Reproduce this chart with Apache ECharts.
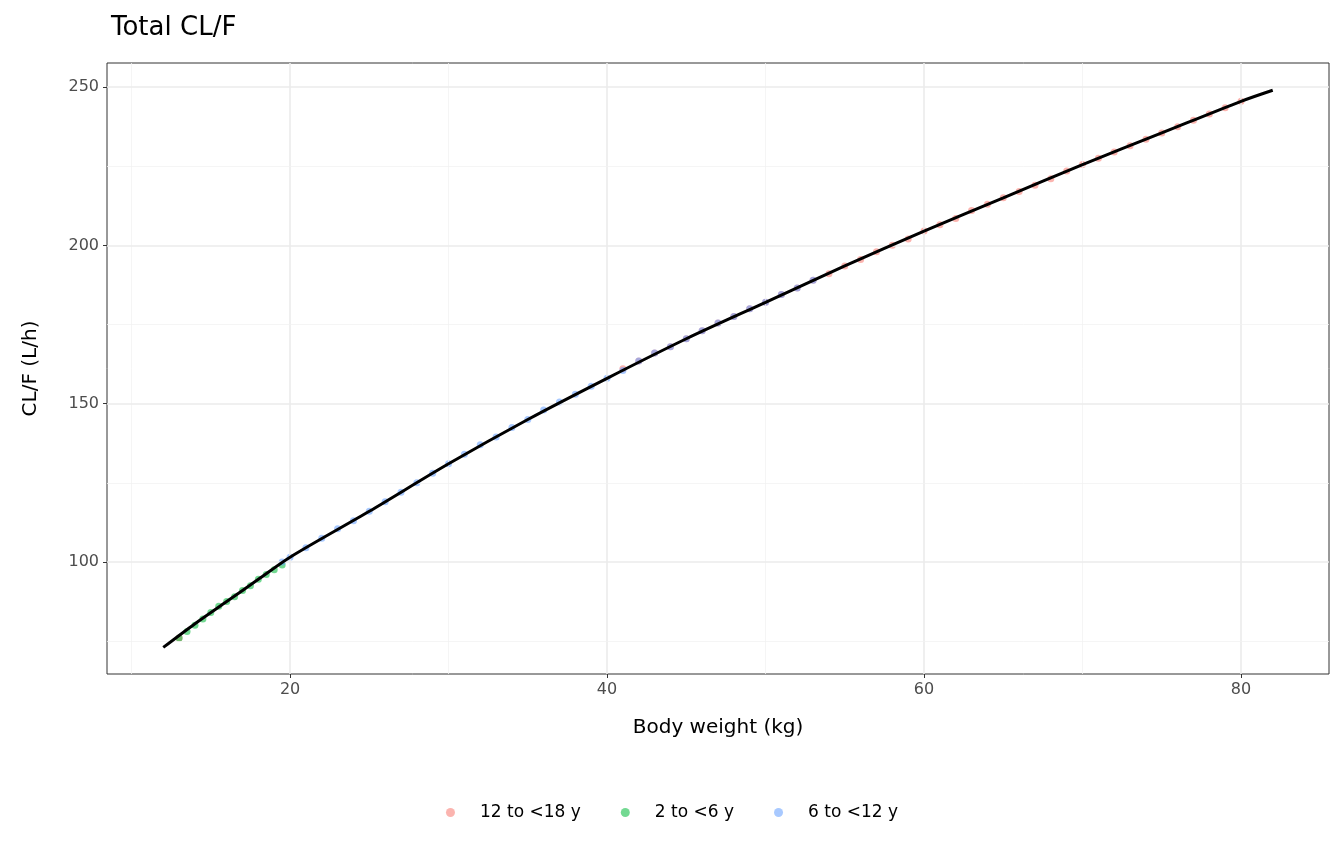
<!DOCTYPE html>
<html><head><meta charset="utf-8">
<script src="https://cdn.jsdelivr.net/npm/echarts@6/dist/echarts.min.js"></script>
<style>html,body{margin:0;padding:0;background:#fff}#c{width:1344px;height:864px}</style>
</head><body><div id="c"></div>
<script>
const xTicks = [20, 40, 60, 80];
const yTicks = [100, 150, 200, 250];
const xMinor = [10, 30, 50, 70];
const yMinor = [75, 125, 175, 225];
const teen = [[13,76],[41,161],[42,163.5],[43,166],[44,168],[45,170.5],[46,173],[47,175.5],[48,177.5],[49,180],[50,182],[51,184.5],[52,186.5],[53,189],[54,191],[55,193.5],[56,195.5],[57,198],[58,200],[59,202],[60,204.5],[61,206.5],[62,208.5],[63,211],[64,213],[65,215],[66,217],[67,219],[68,221],[69,223.5],[70,225.5],[71,227.5],[72,229.5],[73,231.5],[74,233.5],[75,235.5],[76,237.5],[77,239.5],[78,241.5],[79,243.5],[80,245.5]];
const young = [[13,76],[13.5,78],[14,80],[14.5,82],[15,84],[15.5,86],[16,87.5],[16.5,89],[17,91],[17.5,92.5],[18,94.5],[18.5,96],[19,97.5],[19.5,99]];
const mid = [[19.5,100],[20,101.5],[21,104.5],[22,107.5],[23,110.5],[24,113],[25,116],[26,119],[27,122],[28,125],[29,128],[30,131],[31,134],[32,137],[33,139.5],[34,142.5],[35,145],[36,148],[37,150.5],[38,153],[39,155.5],[40,158],[41,160.5],[42,163.5],[43,166],[44,168],[45,170.5],[46,173],[47,175.5],[48,177.5],[49,180],[50,182],[51,184.5],[52,186.5],[53,189]];
const fitLine = [[12,73],[14,80.5],[16,87.5],[18,94.5],[20,101.5],[25,116],[30,131],[35,145],[40,158],[45,170.5],[50,182],[55,193.5],[60,204.5],[65,215],[70,225.5],[75,235.5],[80,245.5],[82,249]];

const grid = [];
xMinor.forEach(v=>grid.push({xAxis:v,lineStyle:{color:'#f2f2f2',width:0.8,type:'solid'}}));
xTicks.forEach(v=>grid.push({xAxis:v,lineStyle:{color:'#ebebeb',width:1.6,type:'solid'}}));
yMinor.forEach(v=>grid.push({yAxis:v,lineStyle:{color:'#f2f2f2',width:0.8,type:'solid'}}));
yTicks.forEach(v=>grid.push({yAxis:v,lineStyle:{color:'#ebebeb',width:1.6,type:'solid'}}));

const sc = (name,data,color)=>({name,type:'scatter',data,symbolSize:7,itemStyle:{color,opacity:0.55},z:3});
const chart = echarts.init(document.getElementById('c'));
chart.setOption({
  animation:false,
  title:{text:'Total CL/F',left:106,top:10,textStyle:{fontFamily:'DejaVu Sans',fontSize:26,fontWeight:'normal',color:'#000'}},
  grid:{left:107,right:15,top:63,bottom:190,show:true,borderColor:'#333',borderWidth:1},
  legend:{bottom:38,left:'center',itemGap:40,icon:'circle',itemWidth:9,itemHeight:9,
    textStyle:{fontFamily:'DejaVu Sans',fontSize:17,color:'#000',padding:[0,0,0,20]},
    data:['12 to <18 y','2 to <6 y','6 to <12 y']},
  xAxis:{type:'value',min:8.45,max:85.55,name:'Body weight (kg)',nameLocation:'middle',nameGap:44,
    nameTextStyle:{fontFamily:'DejaVu Sans',fontSize:20,color:'#000'},
    axisLine:{show:false},splitLine:{show:false},
    axisTick:{show:true,customValues:xTicks,length:4,lineStyle:{color:'#333'}},
    axisLabel:{customValues:xTicks,fontFamily:'DejaVu Sans',fontSize:16,color:'#4d4d4d'}},
  yAxis:{type:'value',min:64.6,max:257.6,name:'CL/F (L/h)',nameLocation:'middle',nameGap:66,
    nameTextStyle:{fontFamily:'DejaVu Sans',fontSize:20,color:'#000'},
    axisLine:{show:false},splitLine:{show:false},
    axisTick:{show:true,customValues:yTicks,length:4,lineStyle:{color:'#333'}},
    axisLabel:{customValues:yTicks,fontFamily:'DejaVu Sans',fontSize:16,color:'#4d4d4d'}},
  series:[
    {type:'line',data:[],silent:true,markLine:{silent:true,symbol:'none',label:{show:false},data:grid},z:1},
    sc('12 to <18 y',teen,'#F8766D'),
    sc('2 to <6 y',young,'#00BA38'),
    sc('6 to <12 y',mid,'#619CFF'),
    {type:'line',data:fitLine,smooth:0.3,showSymbol:false,lineStyle:{color:'#000',width:3},z:5,silent:true}
  ]
});
</script></body></html>
